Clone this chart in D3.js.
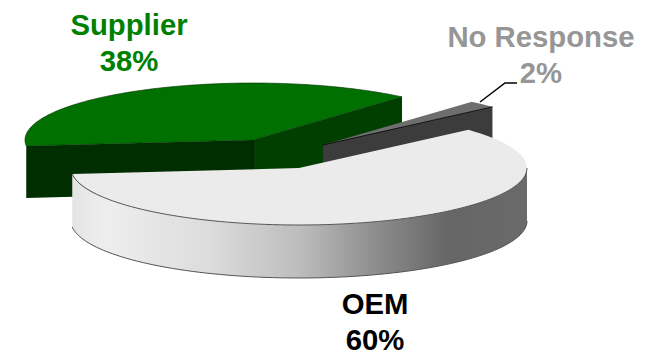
<!DOCTYPE html>
<html>
<head>
<meta charset="utf-8">
<script src="https://cdnjs.cloudflare.com/ajax/libs/d3/7.8.5/d3.min.js"></script>
<style>
html,body{margin:0;padding:0;background:#fff}
svg{display:block}
text{font-family:"Liberation Sans",Arial,sans-serif;font-weight:bold;font-size:29.3px;text-anchor:middle}
</style>
</head>
<body>
<svg id="chart" width="651" height="355"></svg>
<script>
// Market share by respondent type
const categories = ["OEM", "Supplier", "No Response"];
const shares = [60, 38, 2];
const labelText = ["60%", "38%", "2%"];

const svg = d3.select("#chart");

// Slices keep the file's order and run clockwise from just past the upper right
const arcs = d3.pie().sort(null).value(d => d)
  .startAngle(48 * Math.PI / 180)
  .endAngle((48 + 360) * Math.PI / 180)(shares);

// Tilted-disc projection: each slice is pulled out to its own hub
const rx = 228, ry = 57;
const hubs = [{x: 299, y: 168, depth: 53}, {x: 253, y: 140, depth: 52}, {x: 323, y: 145, depth: 52}];
const unitX = d3.scaleLinear().domain([-1, 1]).range([-rx, rx]);
const unitY = d3.scaleLinear().domain([-1, 1]).range([-ry, ry]);
const rim = (hub, a, drop = 0) => [hub.x + unitX(Math.sin(a)), hub.y + unitY(-Math.cos(a)) + drop];
const path = d3.line();
const sweep = (hub, a0, a1, drop = 0) => {
  const n = 90;
  return d3.range(n + 1).map(i => rim(hub, a0 + (a1 - a0) * i / n, drop));
};

// Side shading across the front of the largest slice
const grad = svg.append("defs").append("linearGradient").attr("id", "oemSide")
  .attr("gradientUnits", "userSpaceOnUse").attr("x1", 73).attr("x2", 526).attr("y1", 0).attr("y2", 0);
[[0, "#e4e4e4"], [0.07, "#eeeeee"], [0.3, "#dcdcdc"], [0.5, "#bdbdbd"], [0.68, "#8a8a8a"], [0.83, "#666666"], [1, "#6a6a6a"]]
  .forEach(([o, c]) => grad.append("stop").attr("offset", o).attr("stop-color", c));

const wall = (hub, a, fill) => {
  const e = rim(hub, a);
  svg.append("path").attr("fill", fill)
    .attr("d", path([[hub.x, hub.y], e, [e[0], e[1] + hub.depth], [hub.x, hub.y + hub.depth]]) + "Z");
};

// Supplier: two cut faces, then its lid
{
  const d = arcs[1], hub = hubs[1];
  wall(hub, d.startAngle, "#002e00");
  wall(hub, d.endAngle, "#003f00");
  svg.append("line").attr("x1", hub.x).attr("x2", hub.x).attr("y1", hub.y).attr("y2", hub.y + hub.depth)
    .attr("stroke", "#001c00").attr("stroke-width", 1);
  svg.append("path").attr("fill", "#007000").attr("stroke", "#003000").attr("stroke-width", 0.6)
    .attr("d", path([[hub.x, hub.y], ...sweep(hub, d.startAngle, d.endAngle)]) + "Z");
}

// No Response: the thin wedge behind the largest slice
{
  const d = arcs[2], hub = hubs[2];
  wall(hub, d.endAngle, "#3c3c3c");
  svg.append("path").attr("fill", "#6e6e6e")
    .attr("d", path([[hub.x, hub.y], ...sweep(hub, d.startAngle, d.endAngle)]) + "Z");
  const e = rim(hub, d.endAngle);
  svg.append("path").attr("fill", "none").attr("stroke", "#111").attr("stroke-width", 1)
    .attr("d", path([[hub.x, hub.y], e]));
}

// OEM: curved side, then the pale lid with a fine rim line
{
  const d = arcs[0], hub = hubs[0];
  const top = sweep(hub, d.startAngle, d.endAngle);
  const outer = sweep(hub, Math.PI / 2, d.endAngle);
  const lower = sweep(hub, Math.PI / 2, d.endAngle, hub.depth).reverse();
  svg.append("path").attr("fill", "url(#oemSide)").attr("d", path([...outer, ...lower]) + "Z");
  svg.append("path").attr("fill", "none").attr("stroke", "#555").attr("stroke-width", 1)
    .attr("d", path(lower));
  svg.append("path").attr("fill", "#ebebeb").attr("d", path([[hub.x, hub.y], ...top]) + "Z");
  svg.append("path").attr("fill", "none").attr("stroke", "#555").attr("stroke-width", 1)
    .attr("d", path(outer));
}

// Leader from the small wedge to its label
svg.append("path").attr("fill", "none").attr("stroke", "#000").attr("stroke-width", 1.5)
  .attr("d", path([[480, 102], [505, 83], [517, 83]]));

// Two-line labels: name above, share below
const labelSpots = [{x: 375, y: 314, fill: "#000"}, {x: 129, y: 35, fill: "#008000"}, {x: 541, y: 47, fill: "#969696"}];
categories.forEach((name, i) => {
  const s = labelSpots[i];
  const g = svg.append("g").attr("fill", s.fill);
  g.append("text").attr("x", s.x).attr("y", s.y).text(name);
  g.append("text").attr("x", s.x).attr("y", s.y + 36).text(labelText[i]);
});
</script>
</body>
</html>
